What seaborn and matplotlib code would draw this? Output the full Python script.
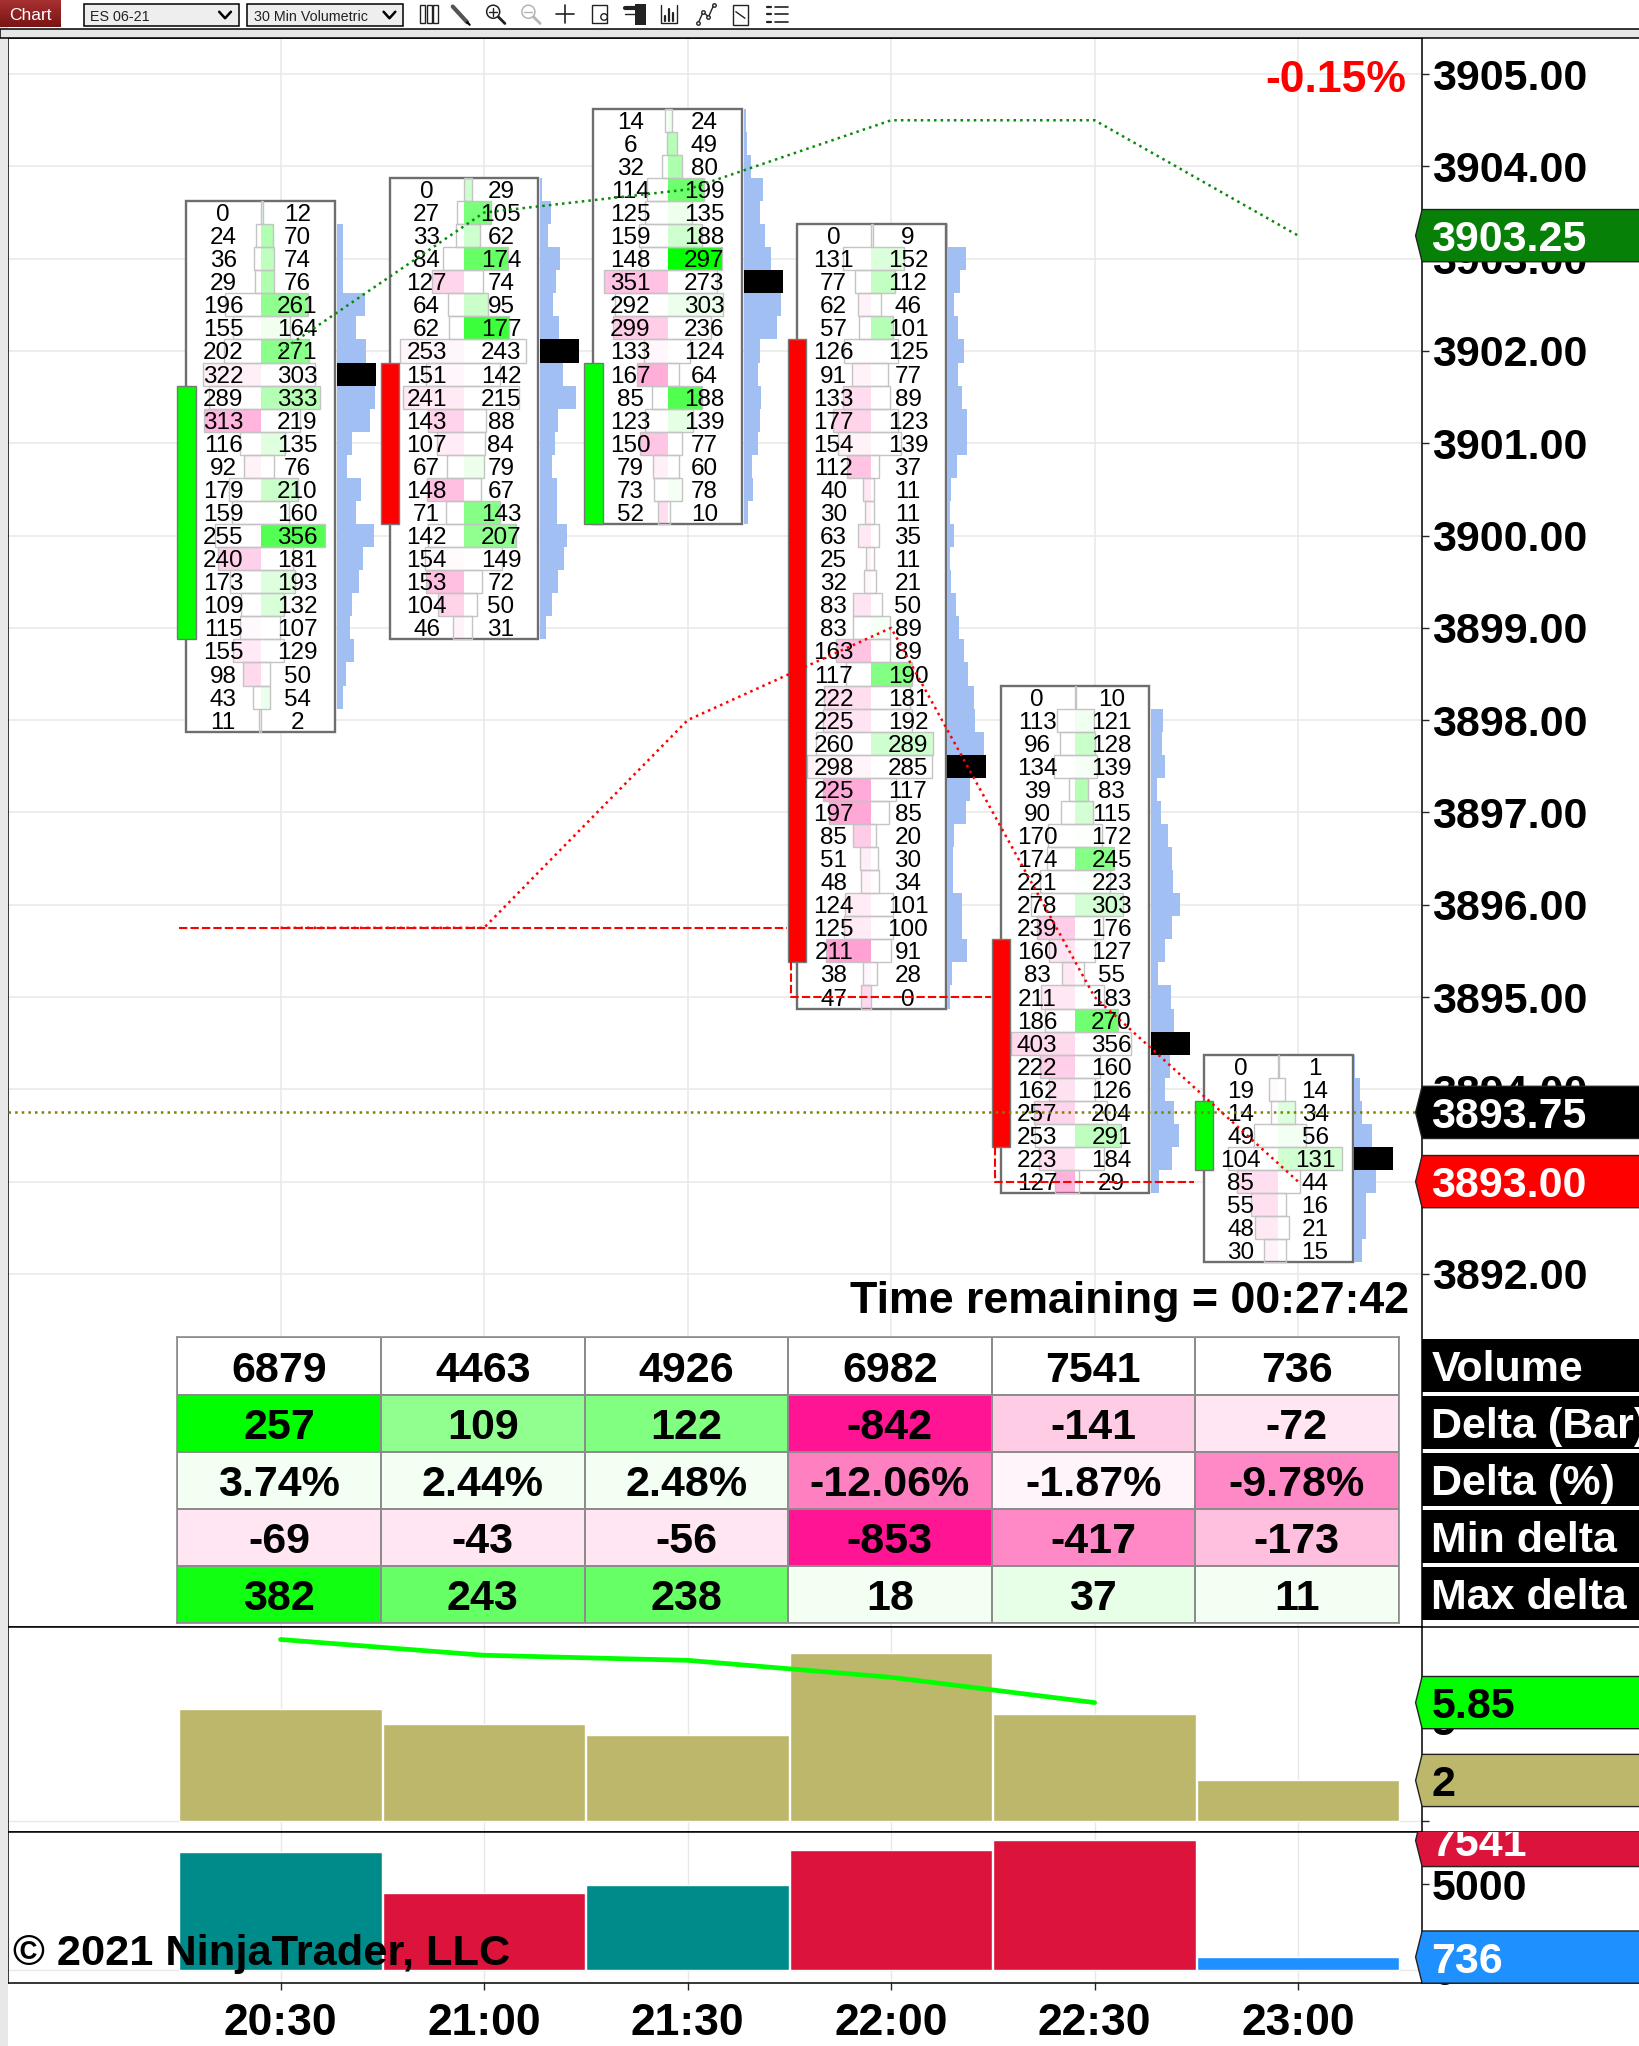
import numpy as np
import matplotlib
matplotlib.use("Agg")
import matplotlib.pyplot as plt
import seaborn as sns
from matplotlib.colors import ListedColormap, LinearSegmentedColormap
from matplotlib.patches import Rectangle, Polygon, Circle

# values
times = ["20:30", "21:00", "21:30", "22:00", "22:30", "23:00"]
top_price = [3903.5, 3903.75, 3904.5, 3903.25, 3898.25, 3894.25]

bid0 = [0, 24, 36, 29, 196, 155, 202, 322, 289, 313, 116, 92, 179, 159, 255, 240, 173, 109, 115, 155, 98, 43, 11]
ask0 = [12, 70, 74, 76, 261, 164, 271, 303, 333, 219, 135, 76, 210, 160, 356, 181, 193, 132, 107, 129, 50, 54, 2]
bid1 = [0, 27, 33, 84, 127, 64, 62, 253, 151, 241, 143, 107, 67, 148, 71, 142, 154, 153, 104, 46]
ask1 = [29, 105, 62, 174, 74, 95, 177, 243, 142, 215, 88, 84, 79, 67, 143, 207, 149, 72, 50, 31]
bid2 = [14, 6, 32, 114, 125, 159, 148, 351, 292, 299, 133, 167, 85, 123, 150, 79, 73, 52]
ask2 = [24, 49, 80, 199, 135, 188, 297, 273, 303, 236, 124, 64, 188, 139, 77, 60, 78, 10]
bid3 = [0, 131, 77, 62, 57, 126, 91, 133, 177, 154, 112, 40, 30, 63, 25, 32, 83, 83, 163, 117,
        222, 225, 260, 298, 225, 197, 85, 51, 48, 124, 125, 211, 38, 47]
ask3 = [9, 152, 112, 46, 101, 125, 77, 89, 123, 139, 37, 11, 11, 35, 11, 21, 50, 89, 89, 190,
        181, 192, 289, 285, 117, 85, 20, 30, 34, 101, 100, 91, 28, 0]
bid4 = [0, 113, 96, 134, 39, 90, 170, 174, 221, 278, 239, 160, 83, 211, 186, 403, 222, 162, 257, 253, 223, 127]
ask4 = [10, 121, 128, 139, 83, 115, 172, 245, 223, 303, 176, 127, 55, 183, 270, 356, 160, 126, 204, 291, 184, 29]
bid5 = [0, 19, 14, 49, 104, 85, 55, 48, 30]
ask5 = [1, 14, 34, 56, 131, 44, 16, 21, 15]
bids = [bid0, bid1, bid2, bid3, bid4, bid5]
asks = [ask0, ask1, ask2, ask3, ask4, ask5]

body_high = [3901.5, 3901.75, 3901.75, 3902.0, 3895.5, 3893.75]
body_low = [3899.0, 3900.25, 3900.25, 3895.5, 3893.5, 3893.25]
body_color = ["#00ff00", "#ff0000", "#00ff00", "#ff0000", "#ff0000", "#00ff00"]

high_line = [3902.0, 3903.5, 3903.75, 3904.5, 3904.5, 3903.25]
low_line = [3895.75, 3895.75, 3898.0, 3899.0, 3895.0, 3893.0]
bar_index = [0, 1, 2, 3, 4, 5]

dash_x = [[-0.5, 2.49], [2.51, 2.51, 3.49], [3.51, 3.51, 4.49]]
dash_y = [[3895.75, 3895.75], [3895.375, 3895.0, 3895.0], [3893.375, 3893.0, 3893.0]]

last_price = 3893.75
price_ticks = [3892, 3893, 3894, 3895, 3896, 3897, 3898, 3899, 3900, 3901, 3902, 3903, 3904, 3905]

row_names = ["Volume", "Delta (Bar)", "Delta (%)", "Min delta", "Max delta"]
table_text = [
    ["6879", "4463", "4926", "6982", "7541", "736"],
    ["257", "109", "122", "-842", "-141", "-72"],
    ["3.74%", "2.44%", "2.48%", "-12.06%", "-1.87%", "-9.78%"],
    ["-69", "-43", "-56", "-853", "-417", "-173"],
    ["382", "243", "238", "18", "37", "11"],
]
table_colors = [
    ["#ffffff", "#ffffff", "#ffffff", "#ffffff", "#ffffff", "#ffffff"],
    ["#00ff00", "#90ff90", "#80ff80", "#ff1493", "#ffcce6", "#ffe6f2"],
    ["#f2fff2", "#f2fff2", "#f2fff2", "#ff80c0", "#fff4fa", "#ff88c6"],
    ["#ffe6f2", "#ffe6f2", "#ffe6f2", "#ff1493", "#ff88c6", "#ffc0e0"],
    ["#11ff11", "#66ff66", "#66ff66", "#f3fff3", "#e6ffe6", "#f3fff3"],
]

ratio_bars = [5.55, 4.77, 4.26, 8.32, 5.29, 2.0]
ratio_line = [8.97, 8.19, 7.94, 7.10, 5.85]
volume_bars = [6879, 4463, 4926, 6982, 7541, 736]
volume_colors = ["#008b8b", "#dc143c", "#008b8b", "#dc143c", "#dc143c", "#1e90ff"]

# layout in units of the downscaled screenshot
W, H = 1257, 1568
X0_PX, PX_PER_BAR = 215, 156
GRID = "#e8e8e8"
PRICE_Y0 = 56.8
PX_PER_POINT = 70.73
BIG = 31


def panel(l, t, r, b):
    ax = fig.add_axes([l / W, 1 - b / H, (r - l) / W, (b - t) / H])
    ax.set_xlim((l - X0_PX) / PX_PER_BAR, (r - X0_PX) / PX_PER_BAR)
    for s in ax.spines.values():
        s.set_visible(True)
        s.set_color("black")
        s.set_linewidth(1.1)
    return ax


def shade(delta):
    if delta > 0:
        return (0, 1, 0, min(delta / 150, 1))
    return (1, 0.078, 0.576, min(-delta / 300, 1))


sns.set_theme(style="white")
plt.rcParams["font.family"] = ["Liberation Sans", "DejaVu Sans"]

fig = plt.figure(figsize=(16.4, 20.46), dpi=100)

# price panel
ax = panel(6, 29, 1090, 1247)
price_lim = (3905 - (1247 - PRICE_Y0) / PX_PER_POINT, 3905 + (PRICE_Y0 - 29) / PX_PER_POINT)
ax.set_ylim(*price_lim)
ax.set_xticks(bar_index)
ax.set_yticks(price_ticks)
ax.set_yticklabels([f"{p:.2f}" for p in price_ticks], fontsize=BIG, fontweight="bold", color="black")
ax.set_xticklabels([])
ax.yaxis.tick_right()
ax.tick_params(axis="y", right=True, left=False, length=5, width=1, pad=2)
ax.tick_params(axis="x", bottom=False)
ax.grid(True, color=GRID, linewidth=1.1, zorder=0)
ax.set_axisbelow(True)

for i in bar_index:
    b = np.array(bids[i], dtype=float)
    a = np.array(asks[i], dtype=float)
    prices = top_price[i] - 0.25 * np.arange(len(b))
    mid = i - 0.0975
    k = 0.314 / max(b.max(), a.max())
    low, high = prices[-1] - 0.125, prices[0] + 0.125
    ax.add_patch(Rectangle((mid - 0.365, low), 0.73, high - low, fc="white", ec="#6e6e6e", lw=1.7, zorder=2))
    for p, bv, av in zip(prices, b, a):
        d = av - bv
        if d > 0:
            ax.barh(p, av * k, left=mid, height=0.25, color=shade(d), lw=0, zorder=3)
        elif d < 0:
            ax.barh(p, -bv * k, left=mid, height=0.25, color=shade(d), lw=0, zorder=3)
        ax.barh(p, (av + bv) * k, left=mid - bv * k, height=0.25, fill=False, ec="#c4c4c4", lw=1, zorder=3.5)
        ax.text(i - 0.282, p, f"{int(bv)}", ha="center", va="center_baseline", fontsize=17.5, color="black", zorder=5)
        ax.text(i + 0.083, p, f"{int(av)}", ha="center", va="center_baseline", fontsize=17.5, color="black", zorder=5)
    total = a + b
    ax.barh(prices, total / total.max() * 0.19, left=i + 0.276, height=0.25, color="#a2bff4", lw=0, zorder=2)
    poc = prices[total.argmax()]
    ax.barh(poc, 0.192, left=i + 0.276, height=0.25, color="black", lw=0, zorder=2.5)
    ax.bar(i - 0.4615, body_high[i] - body_low[i] + 0.25, width=0.09, bottom=body_low[i] - 0.125,
           color=body_color[i], edgecolor="#777777", lw=1, zorder=4)

ax.axhline(last_price, color="#808000", linestyle=":", linewidth=1.8, zorder=6)
for xs, ys in zip(dash_x, dash_y):
    ax.plot(xs, ys, color="#ff0000", linestyle=(0, (4, 1.5)), linewidth=1.5, zorder=6)
sns.lineplot(x=bar_index, y=high_line, color="#0a8a0a", linestyle=":", linewidth=1.8, ax=ax, zorder=7)
sns.lineplot(x=bar_index, y=low_line, color="#ff0000", linestyle=":", linewidth=1.8, ax=ax, zorder=7)
ax.set_xlim((6 - X0_PX) / PX_PER_BAR, (1090 - X0_PX) / PX_PER_BAR)
ax.set_ylim(*price_lim)

# table of bar statistics
ax_t = fig.add_axes([136 / W, 1 - 1244 / H, (1072 - 136) / W, (1244 - 1025) / H])
cell_ids = np.arange(30).reshape(5, 6)
flat = [c for row in table_colors for c in row]
sns.heatmap(cell_ids, cmap=ListedColormap(flat), vmin=-0.5, vmax=29.5, annot=np.array(table_text), fmt="",
            annot_kws={"fontsize": BIG, "fontweight": "bold", "color": "black", "va": "center_baseline"},
            linewidths=1.2, linecolor="#8c8c8c", cbar=False, xticklabels=False, yticklabels=False, ax=ax_t)
for s in ax_t.spines.values():
    s.set_visible(True)
    s.set_color("#8c8c8c")
    s.set_linewidth(1.2)

# ratio panel
ax2 = panel(6, 1247, 1090, 1404)
sns.barplot(x=times, y=ratio_bars, color="#bdb76b", saturation=1, width=0.995, ax=ax2, zorder=2)
sns.lineplot(x=bar_index[:5], y=ratio_line, color="#00ff00", linewidth=3.4, ax=ax2, zorder=3)
ax2.set_xlim((6 - X0_PX) / PX_PER_BAR, (1090 - X0_PX) / PX_PER_BAR)
ax2.set_ylim(-8.5 / 15.5, 148.5 / 15.5)
ax2.set_xticks(bar_index)
ax2.set_xticklabels([])
ax2.set_xlabel("")
ax2.set_ylabel("")
ax2.grid(True, axis="x", color=GRID, linewidth=1, zorder=0)
ax2.axhline(0, color=GRID, linewidth=1, zorder=1)
ax2.set_yticks([0, 5])
ax2.set_yticklabels(["", "5"], fontsize=BIG, fontweight="bold", color="black")
ax2.yaxis.tick_right()
ax2.tick_params(axis="y", right=True, left=False, length=5, width=1, pad=2)
ax2.tick_params(axis="x", bottom=False)

# volume panel
ax3 = panel(6, 1404, 1090, 1520)
sns.barplot(x=times, y=volume_bars, hue=times, palette=volume_colors, legend=False, saturation=1, width=0.995,
            ax=ax3, zorder=2)
ax3.set_xlim((6 - X0_PX) / PX_PER_BAR, (1090 - X0_PX) / PX_PER_BAR)
ax3.set_ylim(-10.5 / 0.01313, 105.5 / 0.01313)
ax3.set_xlabel("")
ax3.set_ylabel("")
ax3.grid(True, axis="x", color=GRID, linewidth=1, zorder=0)
ax3.axhline(0, color=GRID, linewidth=1, zorder=1)
ax3.set_yticks([0, 5000])
ax3.set_yticklabels(["0", "5000"], fontsize=BIG, fontweight="bold", color="black")
ax3.yaxis.tick_right()
ax3.tick_params(axis="y", right=True, left=False, length=5, width=1, pad=2)
ax3.tick_params(axis="x", bottom=True, length=5, width=1, pad=9, labelsize=32, labelcolor="black")
for t in ax3.get_xticklabels():
    t.set_fontweight("bold")

# everything around the plot areas
ov = fig.add_axes([0, 0, 1, 1], facecolor="none")
ov.set_xlim(0, W)
ov.set_ylim(H, 0)
ov.axis("off")
ov.add_patch(Rectangle((0, 0), 6, H, fc="#e8e8ea", lw=0))
ov.add_patch(Rectangle((0, 22.5), W, 6.5, fc="#e6e6e6", ec="black", lw=1.1))
for y in [1247, 1404, 1520]:
    ov.plot([1090, W], [y, y], color="black", lw=1.1)


def ref_y(axis, v):
    return ov.transData.inverted().transform(axis.transData.transform((0, v)))[1]


def flag(axis, value, label, fc, tc, clip=None):
    y = ref_y(axis, value)
    pts = [(1085, y), (1090, y - 20), (W + 5, y - 20), (W + 5, y + 20), (1090, y + 20)]
    patch = Polygon(pts, closed=True, fc=fc, ec="#222222", lw=1, zorder=5)
    ov.add_patch(patch)
    txt = ov.text(1097, y, label, color=tc, fontsize=BIG, fontweight="bold", va="center_baseline", zorder=6)
    if clip is not None:
        patch.set_clip_path(clip)
        txt.set_clip_path(clip)
        txt.set_clip_on(True)


flag(ax, 3903.25, "3903.25", "#068006", "white")
flag(ax, last_price, "3893.75", "black", "white")
flag(ax, 3893.0, "3893.00", "#ff0000", "white")
flag(ax2, ratio_line[-1], "5.85", "#00ff00", "black")
flag(ax2, ratio_bars[-1], "2", "#bdb76b", "black")
panel3_clip = Rectangle((1080, 1404), 200, 116, transform=ov.transData)
flag(ax3, volume_bars[4], "7541", "#dc143c", "white", clip=panel3_clip)
flag(ax3, volume_bars[5], "736", "#1e90ff", "white")

for j, name in enumerate(row_names):
    top = 1026 + 43.75 * j
    ov.add_patch(Rectangle((1090, top), W - 1090, 40.5, fc="black", lw=0))
    ov.text(1097, top + 20.5, name, color="white", fontsize=BIG, fontweight="bold", va="center_baseline",
            clip_on=True)

ov.text(1078, 58, "-0.15%", color="#ff0000", fontsize=32, fontweight="bold", ha="right", va="center_baseline")
ov.text(1080, 994, "Time remaining = 00:27:42", color="black", fontsize=32.2, fontweight="bold", ha="right",
        va="center_baseline")
ov.text(10, 1494, "\u00a9 2021 NinjaTrader, LLC", color="black", fontsize=31.2, fontweight="bold",
        va="center_baseline")

# toolbar
btn = LinearSegmentedColormap.from_list("btn", ["#a83232", "#7a1414"])
ov.imshow(np.linspace(0, 1, 32).reshape(-1, 1), cmap=btn, extent=(0, 46, 21, 0), aspect="auto", zorder=2)
ov.set_xlim(0, W)
ov.set_ylim(H, 0)
ov.text(23, 11, "Chart", color="white", fontsize=12.5, ha="center", va="center_baseline", zorder=3)
for x0, x1, label in [(64, 183, "ES 06-21"), (189.5, 309, "30 Min Volumetric")]:
    ov.add_patch(Rectangle((x0, 3), x1 - x0, 17, fc="#eeeeee", ec="black", lw=1.1))
    ov.text(x0 + 5, 11.5, label, color="#222222", fontsize=10.3, va="center_baseline")
    ov.plot([x1 - 15, x1 - 10.5, x1 - 6], [9, 14, 9], color="black", lw=1.8)

ic = "#222222"
for dx in [322, 327, 332]:
    ov.add_patch(Rectangle((dx, 4), 4, 14, fc="white", ec=ic, lw=1))
ov.plot([347, 358], [5, 17], color="#555555", lw=3)
ov.plot([358, 360], [17, 19], color="black", lw=1.5)
for cx, col in [(378, ic), (405, "#b5b5b5")]:
    ov.add_patch(Circle((cx, 9), 5, fc="white", ec=col, lw=1.1, transform=ov.transData))
    ov.plot([cx + 4, cx + 9], [13, 18], color=col, lw=2)
    ov.plot([cx - 3, cx + 3], [9, 9], color=col, lw=1)
ov.plot([378, 378], [6, 12], color=ic, lw=1)
ov.plot([426, 440], [11, 11], color=ic, lw=1.2)
ov.plot([433, 433], [4, 18], color=ic, lw=1.2)
ov.add_patch(Rectangle((454, 4), 11, 14, fc="white", ec=ic, lw=1))
ov.add_patch(Circle((463, 13), 2.5, fc="white", ec=ic, lw=1, transform=ov.transData))
ov.add_patch(Rectangle((487, 3), 8, 16, fc=ic, lw=0))
ov.plot([479, 487], [6, 6], color=ic, lw=3)
ov.plot([479, 487], [11, 11], color=ic, lw=1)
for dx, top in [(510, 12), (513, 7), (516, 10)]:
    ov.plot([dx, dx], [top, 16], color=ic, lw=1.6)
ov.plot([507, 507, 519, 519], [4, 18, 18, 4], color=ic, lw=1)
ov.plot([535, 539, 543, 547], [18, 9, 13, 4], color=ic, lw=1, marker="o", ms=2.5, mfc="white")
ov.add_patch(Rectangle((562, 4), 11, 15, fc="white", ec=ic, lw=1))
ov.plot([564, 571], [9, 14], color=ic, lw=1)
for y in [5, 11, 17]:
    ov.plot([588, 591], [y, y], color=ic, lw=1.6)
    ov.plot([594, 604], [y, y], color=ic, lw=1.2)

fig.savefig("out.png", dpi=100)
